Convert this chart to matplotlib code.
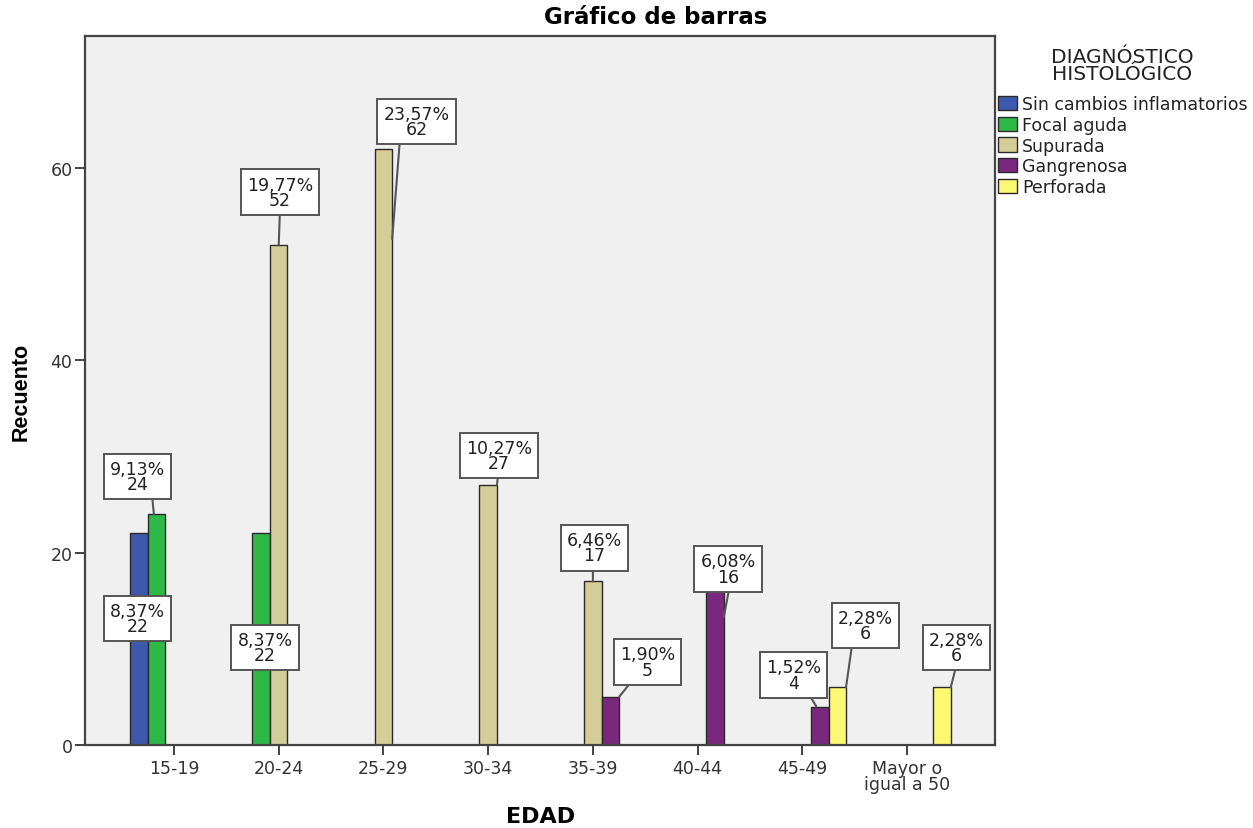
"""
Gráfico de barras agrupadas: EDAD vs DIAGNÓSTICO HISTOLÓGICO (estilo SPSS)
"""

import numpy as np
import matplotlib
matplotlib.use("Agg")
import matplotlib.pyplot as plt

# datos
categorias = ['15-19', '20-24', '25-29', '30-34', '35-39', '40-44', '45-49', 'Mayor o\nigual a 50']
series = ['Sin cambios inflamatorios', 'Focal aguda', 'Supurada', 'Gangrenosa', 'Perforada']

sin_cambios = [22, 0, 0, 0, 0, 0, 0, 0]
focal_aguda = [24, 22, 0, 0, 0, 0, 0, 0]
supurada = [0, 52, 62, 27, 17, 0, 0, 0]
gangrenosa = [0, 0, 0, 0, 5, 16, 4, 0]
perforada = [0, 0, 0, 0, 0, 0, 6, 6]

colores = ['#3E58AC', '#2EB848', '#D3CE97', '#79287D', '#FBF873']

# posicion de las etiquetas: (categoria, serie, caja_x, caja_y, rel_x, punta_dx, punta_dy, linea)
etiquetas = [
    (0, 1, -0.349, 27.9, 0.76, -0.15, 0, True),
    (0, 0, -0.349, 13.15, 0.5, 0, 0, False),
    (1, 1, 0.869, 10.14, 0.5, 0, 0, False),
    (1, 2, 1.012, 57.45, 0.5, 0, 0, True),
    (2, 2, 2.316, 64.8, 0.25, 0.5, -9.4, True),
    (3, 2, 3.104, 30.1, 0.49, 0.5, 0, True),
    (4, 2, 4.016, 20.5, 0.47, 0, 0, True),
    (4, 3, 4.522, 8.63, 0.25, 0.5, 0, True),
    (5, 3, 5.291, 18.3, 0.53, 0.5, -2.7, True),
    (6, 3, 5.917, 7.28, 0.75, -0.2, 0, True),
    (6, 4, 6.605, 12.43, 0.26, 0.5, 0, True),
    (7, 4, 7.474, 10.14, 0.5, 0.5, 0, True),
]


def plot_barras(output="out.png"):
    plt.rcParams['font.family'] = ['DejaVu Sans']
    valores = np.array([sin_cambios, focal_aguda, supurada, gangrenosa, perforada])
    total = valores.sum()

    fig = plt.figure(figsize=(12.53, 8.29), dpi=100)
    ax = fig.add_axes([85 / 1253, 83 / 829, 910 / 1253, 709 / 829])
    ax.set_facecolor('#F0F0F0')

    x = np.arange(len(categorias))
    ancho = 0.167
    handles = []
    for i, nombre in enumerate(series):
        pos = x + (i - 2) * ancho
        mask = valores[i] > 0
        h = ax.bar(pos[mask], valores[i][mask], width=ancho, color=colores[i],
                   edgecolor='#2a2a2a', linewidth=1.0, zorder=2, label=nombre)
        handles.append(h)

    # etiquetas con porcentaje y recuento
    for cat, ser, bx, by, rx, tdx, tdy, linea in etiquetas:
        v = valores[ser][cat]
        pct = f"{100 * v / total:.2f}".replace('.', ',')
        txt = f"{pct}%\n{v}"
        bar_x = cat + (ser - 2) * ancho
        punta = (bar_x + tdx * ancho, v + tdy)
        props = None
        if linea:
            props = dict(arrowstyle='-', color='#555555', lw=1.5,
                         relpos=(rx, 0), shrinkA=0, shrinkB=0)
        ax.annotate(txt, xy=punta, xytext=(bx, by), ha='center', va='center',
                    fontsize=12.5, linespacing=0.8, color='#222222', zorder=6,
                    bbox=dict(boxstyle='square,pad=0.36', fc='white', ec='#555555', lw=1.4),
                    arrowprops=props)

    ax.set_xlim(-0.85, 7.84)
    ax.set_ylim(0, 73.7)
    ax.set_xticks(x)
    ax.set_xticklabels(categorias, fontsize=12.5, color='#333333', linespacing=0.9)
    ax.set_yticks([0, 20, 40, 60])
    ax.tick_params(axis='y', labelsize=12.5, labelcolor='#333333', length=7, width=1.3,
                   color='#333333', pad=2)
    ax.tick_params(axis='x', length=7, width=1.3, color='#333333', pad=3)
    for sp in ax.spines.values():
        sp.set_color('#444444')
        sp.set_linewidth(1.6)

    fig.text(541 / 1253, 1 - 817 / 829, 'EDAD', ha='center', va='center',
             fontsize=16, fontweight='bold')
    fig.text(21 / 1253, 1 - 392 / 829, 'Recuento', rotation=90, ha='center', va='center',
             fontsize=15.5, fontweight='bold', family=['Liberation Sans', 'DejaVu Sans'])
    fig.text(656 / 1253, 1 - 18 / 829, 'Gráfico de barras', ha='center', va='center',
             fontsize=16.5, fontweight='bold')

    # leyenda (titulo aparte para controlar el espacio)
    fig.text(1122 / 1253, 1 - 66 / 829, 'DIAGNÓSTICO\nHISTOLÓGICO', ha='center', va='center',
             fontsize=14.5, linespacing=0.85, color='#222222')
    leg = fig.legend(handles=handles, loc='upper left', bbox_to_anchor=(998 / 1253, 1 - 96 / 829),
                     frameon=False, fontsize=12.5, handlelength=1.08, handleheight=0.88,
                     handletextpad=0.3, labelspacing=0.16, borderpad=0, borderaxespad=0)
    for t in leg.get_texts():
        t.set_color('#222222')

    fig.savefig(output, dpi=100)
    plt.close(fig)


def main():
    plot_barras("out.png")


if __name__ == "__main__":
    main()
